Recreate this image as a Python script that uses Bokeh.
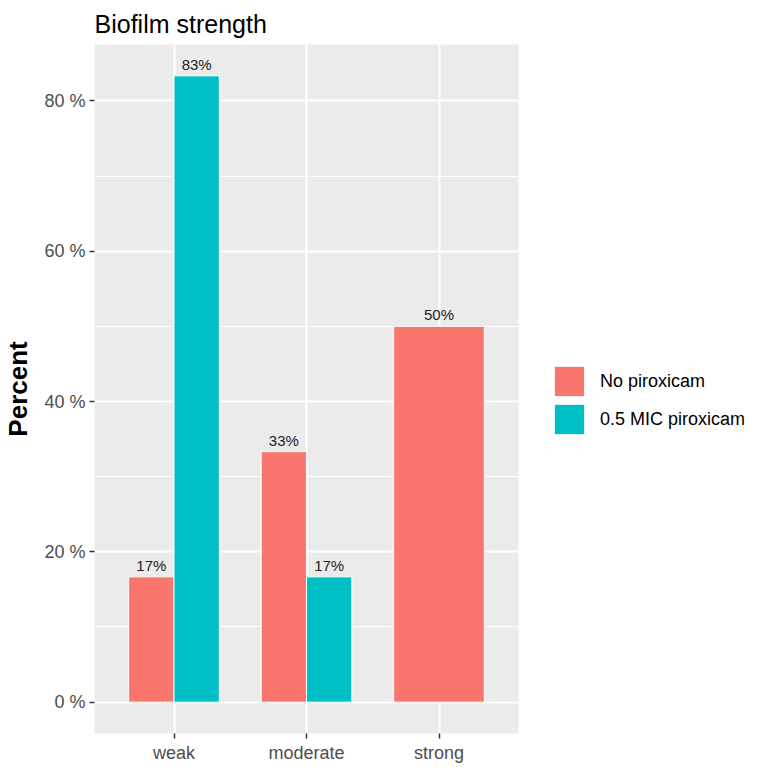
from bokeh.plotting import figure
from bokeh.models import Range1d, FixedTicker, ColumnDataSource, Legend, LegendItem
from bokeh.embed import file_html
from bokeh.resources import INLINE
from bokeh.core.properties import value

# ---- data ----
categories = ["weak", "moderate", "strong"]
series_names = ["No piroxicam", "0.5 MIC piroxicam"]
no_piroxicam = [16.67, 33.33, 50.0]
mic_piroxicam = [83.33, 16.67, None]
y_ticks = [0, 20, 40, 60, 80]
y_minor_ticks = [10, 30, 50, 70]
y_tick_labels = ["0 %", "20 %", "40 %", "60 %", "80 %"]
colors = ["#F8766D", "#00BFC4"]

FONT = "Liberation Sans"
series_values = [no_piroxicam, mic_piroxicam]

# dodge positions (ggplot position_dodge2-like)
total_w = 0.684
sources = [dict(x=[], top=[], width=[], label=[]) for _ in series_values]
for i, cat in enumerate(categories):
    present = [s for s in range(len(series_values)) if series_values[s][i] is not None]
    n = len(present)
    w = total_w / n
    for k, s in enumerate(present):
        v = series_values[s][i]
        sources[s]["x"].append(i + 1 - total_w / 2 + (k + 0.5) * w)
        sources[s]["top"].append(v)
        sources[s]["width"].append(w)
        sources[s]["label"].append(f"{round(v)}%")

p = figure(frame_width=424, frame_height=689,
           x_range=Range1d(0.4, 3.6), y_range=Range1d(-4.17, 87.5),
           output_backend="svg", toolbar_location=None,
           min_border_left=89, min_border_right=232,
           min_border_top=37, min_border_bottom=28)

p.background_fill_color = "#EBEBEB"
p.border_fill_color = "white"
p.outline_line_color = None

# title
p.title.text = "Biofilm strength"
p.title.text_font = FONT
p.title.text_font_size = "25px"
p.title.text_font_style = "normal"
p.title.text_color = "black"
p.title.align = "left"
p.title.standoff = 14

# axes
xt = FixedTicker(ticks=[1, 2, 3])
p.xaxis.ticker = xt
p.xaxis.major_label_overrides = {i + 1: c for i, c in enumerate(categories)}
p.xgrid.ticker = xt
yt = FixedTicker(ticks=y_ticks, minor_ticks=y_minor_ticks)
p.yaxis.ticker = yt
p.yaxis.major_label_overrides = dict(zip(y_ticks, y_tick_labels))
p.ygrid.ticker = yt

for ax in (p.xaxis, p.yaxis):
    ax.axis_line_color = None
    ax.minor_tick_line_color = None
    ax.major_tick_line_color = "#333333"
    ax.major_tick_line_width = 1.5
    ax.major_tick_out = 5
    ax.major_tick_in = 0
    ax.major_label_text_font = FONT
    ax.major_label_text_font_size = "18px"
    ax.major_label_text_color = "#4D4D4D"
    ax.major_label_standoff = 4

p.yaxis.axis_label = "Percent"
p.yaxis.axis_label_text_font = FONT
p.yaxis.axis_label_text_font_size = "26px"
p.yaxis.axis_label_text_font_style = "bold"
p.yaxis.axis_label_text_color = "black"
p.yaxis.axis_label_standoff = 8

p.xgrid.grid_line_color = "white"
p.xgrid.grid_line_width = 2
p.ygrid.grid_line_color = "white"
p.ygrid.grid_line_width = 2
p.ygrid.minor_grid_line_color = "white"
p.ygrid.minor_grid_line_width = 1

renderers = []
for s, src in enumerate(sources):
    cds = ColumnDataSource(src)
    r = p.vbar(x="x", top="top", bottom=0, width="width", source=cds,
               fill_color=colors[s], line_color="white", line_width=1)
    renderers.append(r)
    p.text(x="x", y="top", text="label", source=cds,
           text_align="center", text_baseline="bottom", y_offset=-3,
           text_font=value(FONT), text_font_size="15px", text_color="#222222")

legend = Legend(items=[LegendItem(label=series_names[s], renderers=[renderers[s]])
                       for s in range(len(series_names))],
                location=(32, 295), glyph_width=38, glyph_height=38,
                spacing=0, label_standoff=12, padding=0, margin=0,
                label_text_font=FONT, label_text_font_size="18px",
                label_text_color="black",
                border_line_color=None, background_fill_color="white")
p.add_layout(legend, "right")

open("out.html", "w").write(file_html(p, INLINE))
